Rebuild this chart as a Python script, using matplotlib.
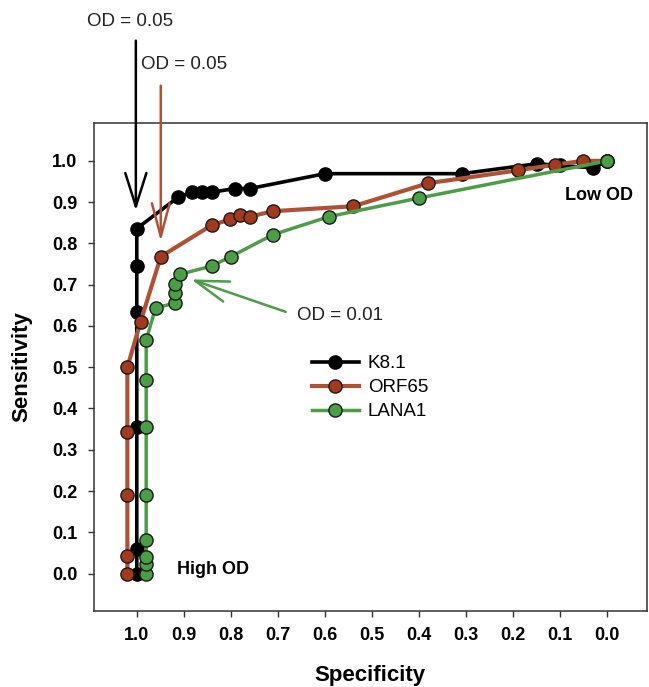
import matplotlib
matplotlib.use('Agg')
import matplotlib.pyplot as plt

plt.rcParams['font.family'] = ['Liberation Sans', 'DejaVu Sans']

# ROC points (specificity, sensitivity)
k81_spec = [1.0, 1.0, 1.0, 1.0, 1.0, 1.0, 0.912, 0.883, 0.862, 0.841,
            0.791, 0.759, 0.600, 0.309, 0.150, 0.100, 0.030, 0.0]
k81_sens = [0.0, 0.059, 0.355, 0.633, 0.746, 0.836, 0.912, 0.924, 0.924, 0.924,
            0.933, 0.933, 0.969, 0.969, 0.993, 0.989, 0.983, 1.0]

orf65_spec = [1.02, 1.02, 1.02, 1.02, 1.02, 0.992, 0.949, 0.841, 0.802, 0.780,
              0.759, 0.711, 0.540, 0.380, 0.190, 0.110, 0.051, 0.0]
orf65_sens = [0.0, 0.043, 0.190, 0.344, 0.500, 0.610, 0.768, 0.844, 0.858, 0.868,
              0.865, 0.878, 0.890, 0.946, 0.977, 0.991, 1.0, 1.0]

lana1_spec = [0.98, 0.98, 0.98, 0.98, 0.98, 0.98, 0.98, 0.98, 0.960, 0.919,
              0.919, 0.919, 0.909, 0.841, 0.800, 0.711, 0.591, 0.400, 0.0]
lana1_sens = [0.0, 0.023, 0.039, 0.081, 0.190, 0.356, 0.468, 0.566, 0.644, 0.655,
              0.679, 0.702, 0.725, 0.745, 0.768, 0.821, 0.865, 0.910, 1.0]

ticks = [1.0, 0.9, 0.8, 0.7, 0.6, 0.5, 0.4, 0.3, 0.2, 0.1, 0.0]
tick_labels = ['%.1f' % t for t in ticks]

BROWN_LINE = '#ad5236'
BROWN_FILL = '#a3391d'
GREEN_LINE = '#4c9c48'
GREEN_FILL = '#4a9e45'

fig = plt.figure(figsize=(6.49, 6.87), dpi=100)
ax = fig.add_axes([0.1448, 0.1111, 0.8517, 0.7094])

ax.plot(k81_spec, k81_sens, color='black', linewidth=2.6, marker='o',
        markersize=9.5, markerfacecolor='black', markeredgecolor='black',
        label='K8.1', zorder=3)
ax.plot(orf65_spec, orf65_sens, color=BROWN_LINE, linewidth=3, marker='o',
        markersize=9.5, markerfacecolor=BROWN_FILL, markeredgecolor='#1a1a1a',
        markeredgewidth=1, label='ORF65', zorder=4)
ax.plot(lana1_spec, lana1_sens, color=GREEN_LINE, linewidth=2.5, marker='o',
        markersize=9.5, markerfacecolor=GREEN_FILL, markeredgecolor='#1a1a1a',
        markeredgewidth=1, label='LANA1', zorder=5)

ax.set_xlim(1.091, -0.084)
ax.set_ylim(-0.09, 1.091)
ax.set_xticks(ticks)
ax.set_xticklabels(tick_labels)
ax.set_yticks(ticks)
ax.set_yticklabels(tick_labels)
ax.tick_params(axis='both', direction='out', length=4.5, width=1,
               labelsize=13, pad=7.5, color='#333333')
for lab in ax.get_xticklabels() + ax.get_yticklabels():
    lab.set_fontweight('bold')
for sp in ax.spines.values():
    sp.set_linewidth(1.1)
    sp.set_color('#333333')

ax.set_xlabel('Specificity', fontsize=16, fontweight='bold', labelpad=15)
ax.set_ylabel('Sensitivity', fontsize=16, fontweight='bold', labelpad=14)

# annotations
ax.text(1.014, 1.338, 'OD = 0.05', fontsize=13.5, color='#222222',
        ha='center', va='center', clip_on=False)
ax.annotate('', xy=(1.002, 0.873), xytext=(1.002, 1.298),
            arrowprops=dict(arrowstyle='->,head_length=1.2,head_width=0.38',
                            mutation_scale=20, color='black', lw=1.8),
            annotation_clip=False)

ax.text(0.900, 1.233, 'OD = 0.05', fontsize=13.5, color='#222222',
        ha='center', va='center', clip_on=False)
ax.annotate('', xy=(0.949, 0.798), xytext=(0.949, 1.189),
            arrowprops=dict(arrowstyle='->,head_length=1.2,head_width=0.32',
                            mutation_scale=20, color=BROWN_LINE, lw=1.8),
            annotation_clip=False)

ax.text(0.568, 0.625, 'OD = 0.01', fontsize=13.5, color='#222222',
        ha='center', va='center')
ax.annotate('', xy=(0.890, 0.715), xytext=(0.678, 0.632),
            arrowprops=dict(arrowstyle='->,head_length=1.2,head_width=0.38',
                            mutation_scale=20, color=GREEN_LINE, lw=1.8))

ax.text(0.018, 0.916, 'Low OD', fontsize=13, fontweight='bold',
        ha='center', va='center')
ax.text(0.915, 0.009, 'High OD', fontsize=13, fontweight='bold',
        ha='left', va='center')

ax.legend(loc='upper left', bbox_to_anchor=(311.7 / 649, 1 - 355 / 687),
          bbox_transform=fig.transFigure, frameon=False, fontsize=13.5,
          handlelength=2.5, handletextpad=0.5, labelspacing=0.37,
          borderpad=0, borderaxespad=0, numpoints=1)

plt.savefig('out.png', dpi=100)
plt.close()
